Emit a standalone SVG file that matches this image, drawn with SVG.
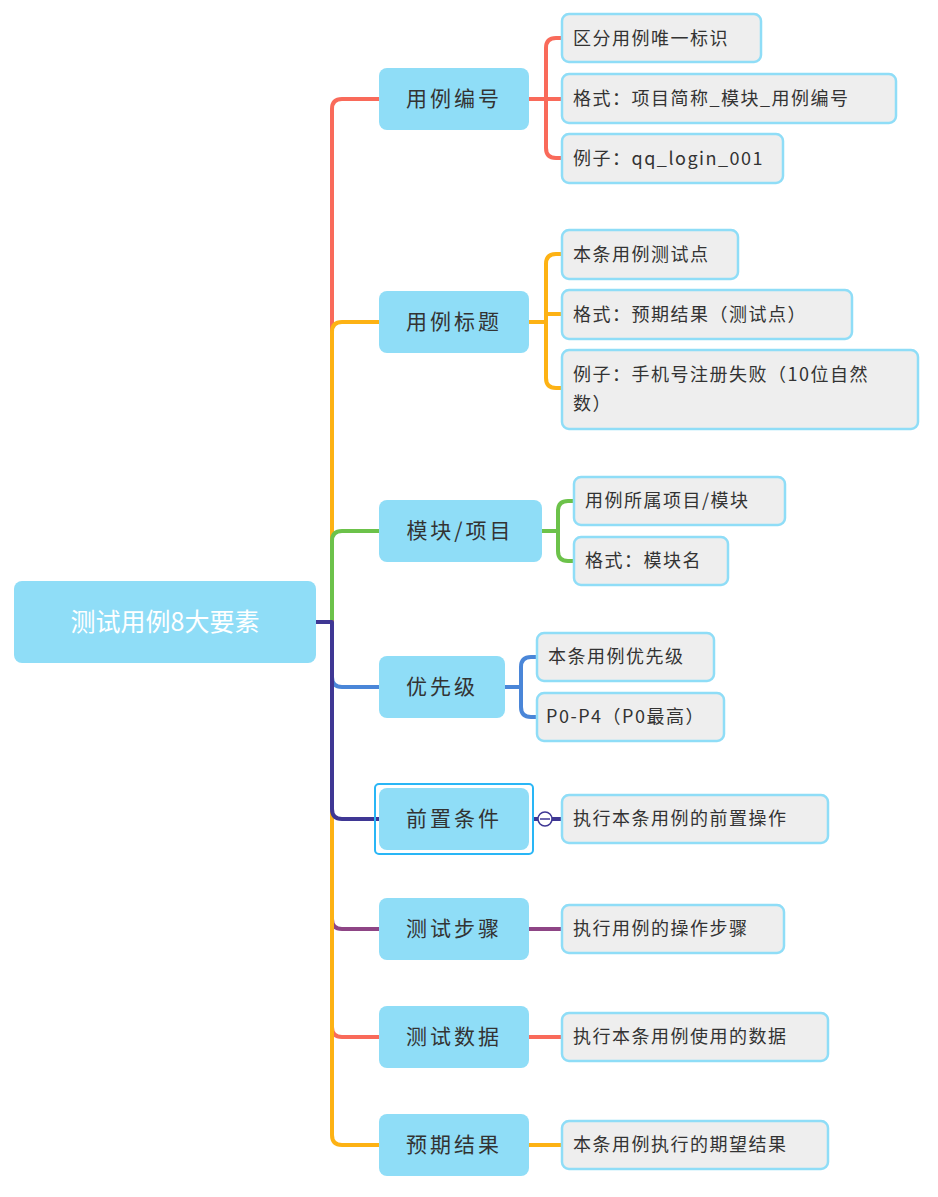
<svg xmlns="http://www.w3.org/2000/svg" width="938" height="1197" viewBox="0 0 938 1197">
<style>
.t{font-family:"Noto Sans CJK SC","Liberation Sans",sans-serif;fill:#333}
.b{fill:#8FDDF7}
.b text{font-size:21px}
.c rect{fill:#EEEEEE;stroke:#8FDDF7;stroke-width:2.5}
.c text{font-size:18px;letter-spacing:1.5px}
.l{fill:none;stroke-width:4;stroke-linejoin:round;stroke-linecap:butt}
</style>
<rect width="938" height="1197" fill="#fff"/>
<g id="connectors">
<path class="l" stroke="#F96A5A" d="M316,622 H332 V109 Q332,99 342,99 H379"/>
<path class="l" stroke="#FDB214" d="M316,622 H332 V332 Q332,322 342,322 H379"/>
<path class="l" stroke="#6CC24A" d="M316,622 H332 V541 Q332,531 342,531 H379"/>
<path class="l" stroke="#4A86D8" d="M316,622 H332 V677 Q332,687 342,687 H379"/>
<path class="l" stroke="#8E4585" d="M316,622 H332 V919 Q332,929 342,929 H379"/>
<path class="l" stroke="#F96A5A" d="M316,622 H332 V1027 Q332,1037 342,1037 H379"/>
<path class="l" stroke="#FDB214" d="M316,622 H332 V1135 Q332,1145 342,1145 H379"/>
<path class="l" stroke="#3F3794" d="M316,622 H332 V809 Q332,819 342,819 H379"/>
<path class="l" stroke="#F96A5A" d="M529,99 H546 M562,38 H556 Q546,38 546,48 V148 Q546,158 556,158 H562 M546,99 H562"/>
<path class="l" stroke="#FDB214" d="M529,322 H546 M562,254 H556 Q546,254 546,264 V378 Q546,388 556,388 H562 M546,314 H562"/>
<path class="l" stroke="#6CC24A" d="M542,531 H558 M574,501 H568 Q558,501 558,511 V551 Q558,561 568,561 H574"/>
<path class="l" stroke="#4A86D8" d="M505,687 H521 M537,657 H531 Q521,657 521,667 V707 Q521,717 531,717 H537"/>
<path class="l" stroke="#3F3794" d="M533,819 H562"/>
<path class="l" stroke="#8E4585" d="M529,929 H562"/>
<path class="l" stroke="#F96A5A" d="M529,1037 H562"/>
<path class="l" stroke="#FDB214" d="M529,1145 H562"/>
<circle cx="545" cy="819" r="7" fill="#fff" stroke="#3F3794" stroke-width="1.5"/>
<path d="M540,819 H550" stroke="#3F3794" stroke-width="1.5"/>
</g>
<g id="root"><rect x="14" y="581" width="302" height="82" rx="8" fill="#8FDDF7"/><text class="t" x="165" y="631" font-size="25" text-anchor="middle" style="fill:#fff">测试用例8大要素</text></g>
<g id="n1" class="b"><rect x="379" y="68" width="150" height="62" rx="8"/><text class="t" x="454" y="106" text-anchor="middle" letter-spacing="3">用例编号</text></g>
<g id="n2" class="b"><rect x="379" y="291" width="150" height="62" rx="8"/><text class="t" x="454" y="329" text-anchor="middle" letter-spacing="3">用例标题</text></g>
<g id="n3" class="b"><rect x="379" y="500" width="163" height="62" rx="8"/><text class="t" x="460" y="538" text-anchor="middle" letter-spacing="3">模块/项目</text></g>
<g id="n4" class="b"><rect x="379" y="656" width="126" height="62" rx="8"/><text class="t" x="442" y="694" text-anchor="middle" letter-spacing="3">优先级</text></g>
<g id="n5" class="b"><rect x="375" y="784" width="158" height="70" rx="4" fill="none" stroke="#29B6F6" stroke-width="2"/><rect x="379" y="788" width="150" height="62" rx="8"/><text class="t" x="454" y="826" text-anchor="middle" letter-spacing="3">前置条件</text></g>
<g id="n6" class="b"><rect x="379" y="898" width="150" height="62" rx="8"/><text class="t" x="454" y="936" text-anchor="middle" letter-spacing="3">测试步骤</text></g>
<g id="n7" class="b"><rect x="379" y="1006" width="150" height="62" rx="8"/><text class="t" x="454" y="1044" text-anchor="middle" letter-spacing="3">测试数据</text></g>
<g id="n8" class="b"><rect x="379" y="1114" width="150" height="62" rx="8"/><text class="t" x="454" y="1152" text-anchor="middle" letter-spacing="3">预期结果</text></g>
<g id="c1" class="c"><rect x="562" y="14" width="199" height="48" rx="7"/><text class="t" x="573" y="45">区分用例唯一标识</text></g>
<g id="c2" class="c"><rect x="562" y="74" width="334" height="49" rx="7"/><text class="t" x="573" y="105">格式：项目简称_模块_用例编号</text></g>
<g id="c3" class="c"><rect x="562" y="134" width="221" height="49" rx="7"/><text class="t" x="573" y="165">例子：qq_login_001</text></g>
<g id="c4" class="c"><rect x="562" y="230" width="176" height="49" rx="7"/><text class="t" x="573" y="261">本条用例测试点</text></g>
<g id="c5" class="c"><rect x="562" y="290" width="290" height="49" rx="7"/><text class="t" x="573" y="321">格式：预期结果（测试点）</text></g>
<g id="c6" class="c"><rect x="562" y="350" width="356" height="79" rx="7"/><text class="t" x="573" y="381">例子：手机号注册失败（10位自然</text><text class="t" x="573" y="410">数）</text></g>
<g id="c7" class="c"><rect x="574" y="477" width="211" height="48" rx="7"/><text class="t" x="585" y="507">用例所属项目/模块</text></g>
<g id="c8" class="c"><rect x="574" y="537" width="154" height="48" rx="7"/><text class="t" x="585" y="567">格式：模块名</text></g>
<g id="c9" class="c"><rect x="537" y="633" width="177" height="48" rx="7"/><text class="t" x="548" y="663">本条用例优先级</text></g>
<g id="c10" class="c"><rect x="537" y="693" width="187" height="48" rx="7"/><text class="t" x="546" y="723" letter-spacing="0.5">P0-P4（P0最高）</text></g>
<g id="c11" class="c"><rect x="562" y="795" width="266" height="48" rx="7"/><text class="t" x="573" y="825">执行本条用例的前置操作</text></g>
<g id="c12" class="c"><rect x="562" y="905" width="222" height="48" rx="7"/><text class="t" x="573" y="935">执行用例的操作步骤</text></g>
<g id="c13" class="c"><rect x="562" y="1013" width="266" height="48" rx="7"/><text class="t" x="573" y="1043">执行本条用例使用的数据</text></g>
<g id="c14" class="c"><rect x="562" y="1121" width="266" height="48" rx="7"/><text class="t" x="573" y="1151">本条用例执行的期望结果</text></g>
</svg>
